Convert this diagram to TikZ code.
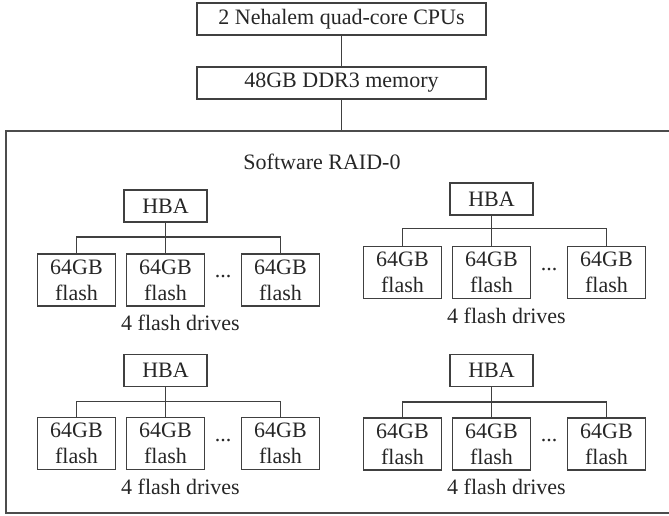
\documentclass[tikz,border=0pt]{standalone}
\usepackage{fontspec}
\setmainfont{Liberation Serif}
\newcommand{\drivegroup}[6]{%
  % #1 prefix, #2 x centre, #3 HBA y, #4 flash y, #5 label y, #6 bus rise
  \node[box, minimum width=83pt] (#1h) at (#2,#3) {HBA};
  \node[flashbox] (#1a) at ({#2-89},#4) {64GB\\flash};
  \node[flashbox] (#1b) at (#2,#4) {64GB\\flash};
  \node[flashbox] (#1c) at ({#2+115},#4) {64GB\\flash};
  \node[inner sep=0pt] (#1d) at ({#2+57.5},{#4-3}) {...};
  \node[inner sep=0pt] (#1l) at ({#2+15},#5) {4 flash drives};
  \draw[wire] (#1a.north) -- ++(0,-#6) -| (#1c.north);
  \draw[wire] (#1h.south) -- (#1b.north);
}
\begin{document}
\begin{tikzpicture}[x=1pt,y=-1pt,
  every node/.style={font=\fontsize{22}{26}\selectfont, text=black!85},
  box/.style={draw=black!75, line width=1.7pt, inner sep=0pt, minimum height=32pt},
  flashbox/.style={draw=black!75, line width=1.7pt, inner sep=0pt, minimum width=78pt, minimum height=52pt, align=center},
  wire/.style={draw=black!75, line width=1.4pt},
  outer/.style={draw=black!70, line width=1.7pt}]
\useasboundingbox (0,0) rectangle (669,515);
\node[box, minimum width=289pt] (cpu) at (341.5,19) {2 Nehalem quad-core CPUs};
\node[box, minimum width=289pt] (mem) at (341.5,83) {48GB DDR3 memory};
\coordinate (otop) at (341.5,131);
\draw[wire] (cpu) -- (mem);
\draw[wire] (mem) -- (otop);
\draw[outer] (669,131) -- (6,131) -- (6,513) -- (669,513);
\node (raid) at (322,162) {Software RAID-0};
\drivegroup{tl}{165.5}{206}{280}{323}{16}
\drivegroup{tr}{491.5}{199}{272.5}{316}{17}
\drivegroup{bl}{165.5}{370.5}{443.5}{487}{15}
\drivegroup{br}{491.5}{370.5}{444}{487}{15}
\end{tikzpicture}
\end{document}
